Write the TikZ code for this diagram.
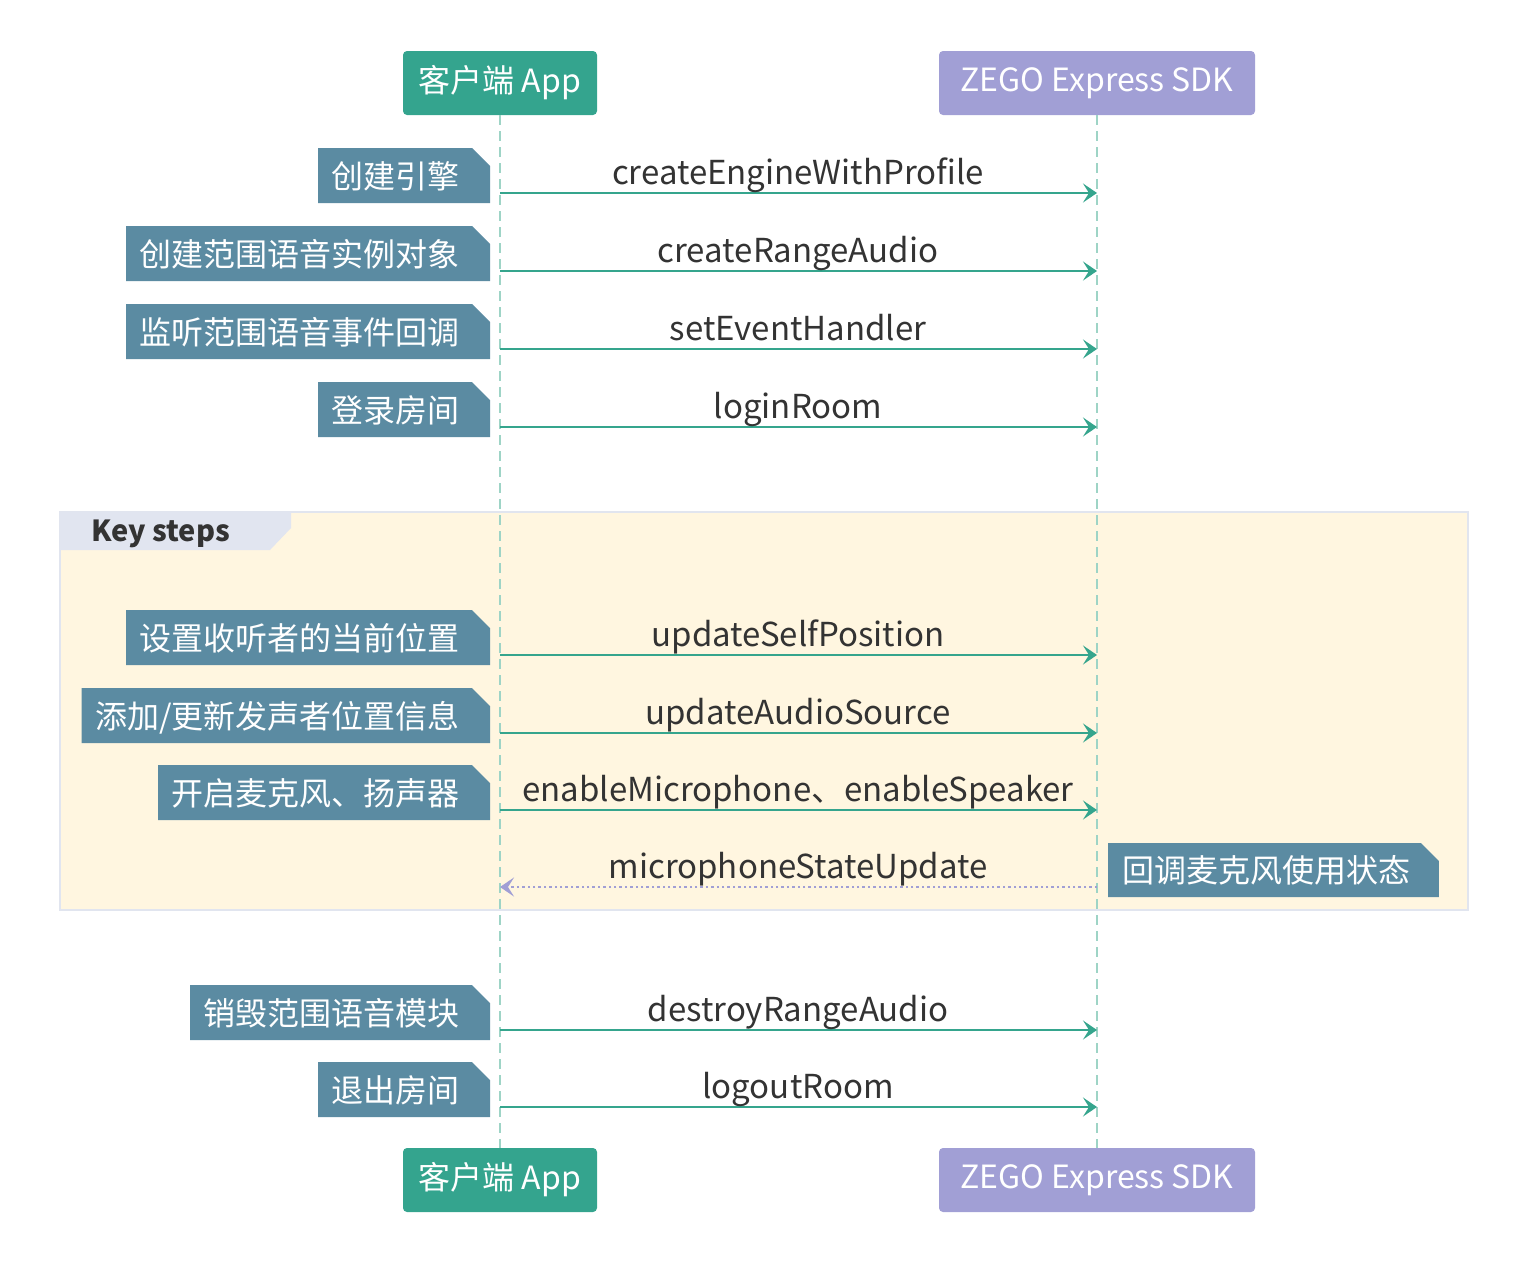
\documentclass[tikz,border=0pt]{standalone}
\usepackage{fontspec}
\setmainfont{Noto Sans CJK SC}
\usetikzlibrary{arrows.meta,calc}

\definecolor{appcol}{HTML}{34A48E}
\definecolor{sdkcol}{HTML}{A19FD5}
\definecolor{notecol}{HTML}{5B8BA2}
\definecolor{lifecol}{HTML}{9ED4C6}
\definecolor{arrowcol}{HTML}{35A58D}
\definecolor{replycol}{HTML}{A19FD5}
\definecolor{groupfill}{HTML}{FFF6E0}
\definecolor{groupline}{HTML}{E1E5EF}
\definecolor{tabfill}{HTML}{E1E5F0}
\definecolor{textcol}{HTML}{333333}

\newcommand\headfont{\fontsize{16}{19}\selectfont}
\newcommand\msgfont{\fontsize{16.5}{19}\selectfont}
\newcommand\notefont{\fontsize{16}{19}\selectfont}
\newcommand\keyfont{\fontsize{14.5}{17}\selectfont\bfseries}

\pgfdeclarelayer{bottom}
\pgfdeclarelayer{background}
\pgfsetlayers{bottom,background,main}

\begin{document}
\begin{tikzpicture}[x=0.5pt,y=-0.5pt,
  head/.style = {rounded corners=2pt, text=white, font=\headfont,
    minimum height=32pt, inner sep=0pt},
  lifeline/.style = {draw=lifecol, line width=0.8pt, dash pattern=on 5pt off 3pt},
  msg/.style = {draw=arrowcol, line width=1.1pt,
    -{Stealth[length=7pt,width=9.5pt,inset=3pt]}},
  reply/.style = {draw=replycol, line width=1pt, dash pattern=on 1.2pt off 1.5pt,
    -{Stealth[length=7pt,width=9.5pt,inset=3pt]}},
  msglabel/.style = {font=\msgfont, text=textcol, inner sep=0pt, anchor=base},
  notetext/.style = {font=\notefont, text=white, inner sep=0pt}]

  \useasboundingbox (0,0) rectangle (1520,1264);

  % key steps group
  \begin{pgfonlayer}{bottom}
    \draw[fill=groupfill, draw=groupline, line width=1pt] (60,512) rectangle (1468,910);
    \fill[tabfill] (60,512) -- (291,512) -- (291,528) -- (270,550) -- (60,550) -- cycle;
  \end{pgfonlayer}
  \node[font=\keyfont, text=textcol, inner sep=0pt, anchor=base west] (key) at (91,541) {Key steps};

  % participants
  \node[head, fill=appcol, minimum width=97pt] (apptop) at (500,83) {客户端 App};
  \node[head, fill=sdkcol, minimum width=158pt] (sdktop) at (1097,83) {ZEGO Express SDK};
  \node[head, fill=appcol, minimum width=97pt] (appbot) at (500,1180) {客户端 App};
  \node[head, fill=sdkcol, minimum width=158pt] (sdkbot) at (1097,1180) {ZEGO Express SDK};
  \draw[lifeline] (apptop) -- (appbot);
  \draw[lifeline] (sdktop) -- (sdkbot);

  % calls from the app
  \foreach \y/\m/\n [count=\i] in {
      193/createEngineWithProfile/创建引擎,
      271/createRangeAudio/创建范围语音实例对象,
      349/setEventHandler/监听范围语音事件回调,
      427/loginRoom/登录房间,
      655/updateSelfPosition/设置收听者的当前位置,
      733/updateAudioSource/{添加/更新发声者位置信息},
      810/enableMicrophone、enableSpeaker/开启麦克风、扬声器,
      1030/destroyRangeAudio/销毁范围语音模块,
      1107/logoutRoom/退出房间} {
    \coordinate (a\i) at (500,\y);
    \coordinate (s\i) at (1097,\y);
    \draw[msg] (a\i) -- (s\i);
    \node[msglabel] (m\i) at (798,\y-9) {\m};
    \node[notetext, anchor=base east] (n\i) at (460,\y-5) {\n};
    \coordinate (nl\i) at ([xshift=-6.5pt]n\i.west);
    \begin{pgfonlayer}{background}
      \fill[notecol] (nl\i |- a\i) ++(0,10) -- ++(0,-55) -- (472,\y-45)
        -- (490,\y-27) -- (490,\y+10) -- cycle;
    \end{pgfonlayer}
  }

  % callback
  \coordinate (acb) at (500,887);
  \coordinate (scb) at (1097,887);
  \draw[reply] (scb) -- (acb);
  \node[msglabel] (mcb) at (798,878) {microphoneStateUpdate};
  \node[notetext, anchor=base west] (ncb) at (1122,882) {回调麦克风使用状态};
  \coordinate (ncbr) at ([xshift=14pt]ncb.east);
  \begin{pgfonlayer}{background}
    \fill[notecol] (1108,843) -- ($(ncbr |- scb)+(-18,-44)$) -- ++(18,18)
      -- (ncbr |- 0,897) -- (1108,897) -- cycle;
  \end{pgfonlayer}
\end{tikzpicture}
\end{document}
